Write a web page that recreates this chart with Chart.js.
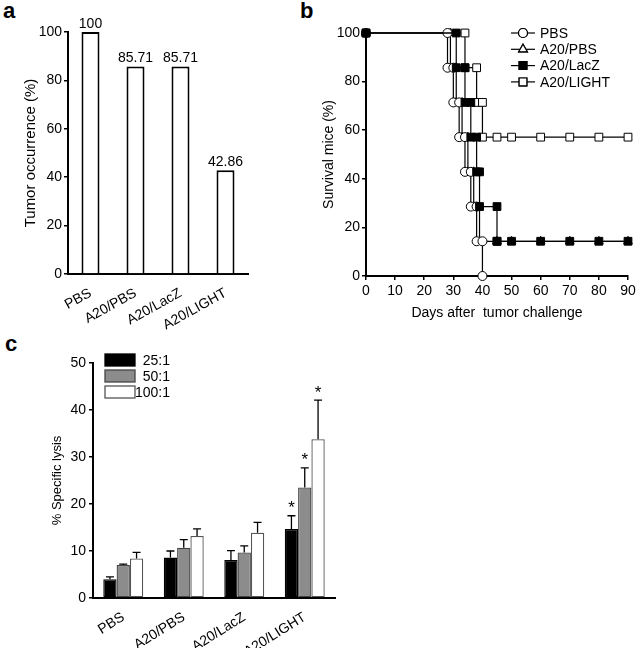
<!DOCTYPE html>
<html>
<head>
<meta charset="utf-8">
<script src="https://cdn.jsdelivr.net/npm/chart.js@4.4.1/dist/chart.umd.min.js"></script>
<style>
  body { margin: 0; background: #fff; }
  #wrap { position: relative; width: 640px; height: 648px; overflow: hidden; }
  canvas { position: absolute; }
  .tag { position: absolute; font: bold 22px 'Liberation Sans', Arial, sans-serif; line-height: 1; }
</style>
</head>
<body>
<div id="wrap">
  <div class="tag" style="left:3px; top:0px;">a</div>
  <div class="tag" style="left:300px; top:0px;">b</div>
  <div class="tag" style="left:5px; top:333px;">c</div>
  <canvas id="chartA" width="265" height="330" style="left:0; top:0;"></canvas>
  <canvas id="chartB" width="345" height="330" style="left:295px; top:0;"></canvas>
  <canvas id="chartC" width="360" height="318" style="left:0; top:330px;"></canvas>
</div>
<script>
// groups used by panels a and c
const groups = ['PBS', 'A20/PBS', 'A20/LacZ', 'A20/LIGHT'];

// panel a: tumor occurrence (%)
const occurrence = [100, 85.71, 85.71, 42.86];

// panel b: survival, day of each death and the survival after it
const pbsDays = [28, 30, 32, 34, 36, 38, 40];
const pbsSurvival = [85.71, 71.43, 57.14, 42.86, 28.57, 14.29, 0];
const a20PbsDays = [29, 31, 33, 35, 37, 39];
const a20PbsSurvival = [85.71, 71.43, 57.14, 42.86, 28.57, 14.29];
const lacZDays = [31, 34, 36, 38, 39, 45];
const lacZSurvival = [85.71, 71.43, 57.14, 42.86, 28.57, 14.29];
const lightDays = [34, 38, 40];
const lightSurvival = [85.71, 71.43, 57.14];
const followUpDays = [45, 50, 60, 70, 80, 90];
const dayTicks = [0, 10, 20, 30, 40, 50, 60, 70, 80, 90];

// panel c: % specific lysis (mean and upper error)
const ratios = ['25:1', '50:1', '100:1'];
const lysis25 = [4.0, 8.6, 8.1, 14.7];
const lysis50 = [7.0, 10.7, 9.7, 23.5];
const lysis100 = [8.4, 13.2, 13.9, 33.8];
const err25 = [0.5, 1.4, 2.0, 2.8];
const err50 = [0.2, 1.7, 1.4, 4.2];
const err100 = [1.3, 1.5, 2.2, 8.3];
const signif25 = [false, false, false, true];
const signif50 = [false, false, false, true];
const signif100 = [false, false, false, true];

const FONT = "'Liberation Sans', Arial, sans-serif";
Chart.defaults.font.family = FONT;
Chart.defaults.color = '#000';

function axisGrid() {
    return { display: true, drawOnChartArea: false, drawTicks: true, tickLength: 4, color: '#000', lineWidth: 1.5 };
}
function axisBorder() {
    return { display: true, color: '#000', width: 2 };
}

// ---------- panel a ----------
const valueLabels = {
    id: 'valueLabels',
    afterDatasetsDraw(chart) {
        const ctx = chart.ctx;
        const meta = chart.getDatasetMeta(0);
        ctx.save();
        ctx.font = '14px ' + FONT;
        ctx.fillStyle = '#000';
        ctx.textAlign = 'center';
        ctx.textBaseline = 'bottom';
        meta.data.forEach((bar, i) => {
            ctx.fillText(String(occurrence[i]), bar.x, bar.y - 1);
        });
        ctx.restore();
    }
};

new Chart(document.getElementById('chartA'), {
    type: 'bar',
    data: {
        labels: groups,
        datasets: [{
            data: occurrence,
            backgroundColor: '#fff',
            borderColor: '#000',
            borderWidth: 2,
            barPercentage: 0.4,
            categoryPercentage: 1
        }]
    },
    options: {
        responsive: false,
        animation: false,
        layout: { autoPadding: false, padding: { top: 32, right: 17, bottom: 0, left: 0 } },
        plugins: { legend: { display: false }, tooltip: { enabled: false } },
        scales: {
            y: {
                min: 0, max: 100,
                ticks: { stepSize: 20, font: { size: 14 }, padding: 2 },
                grid: axisGrid(),
                border: axisBorder(),
                title: { display: true, text: 'Tumor occurrence (%)', font: { size: 15 }, padding: { top: 22 } },
                afterFit(s) { s.width = 68; }
            },
            x: {
                ticks: { minRotation: 29, maxRotation: 29, font: { size: 14 }, padding: 3 },
                grid: { display: false },
                border: axisBorder(),
                afterFit(s) { s.height = 56; }
            }
        }
    },
    plugins: [valueLabels]
});

// ---------- panel b ----------
function survivalPoints(days, surv, tail) {
    const pts = [{ x: 0, y: 100 }];
    let prev = 100;
    days.forEach((d, i) => {
        pts.push({ x: d, y: prev });
        pts.push({ x: d, y: surv[i] });
        prev = surv[i];
    });
    if (tail) tail.forEach(d => pts.push({ x: d, y: prev }));
    return pts;
}

function survSet(label, pts, style, fill, order) {
    let r = 4.5;
    if (style === 'rect') r = 5.5;
    if (style === 'triangle') r = 5;
    return {
        label: label,
        data: pts,
        borderColor: '#000',
        borderWidth: 1.2,
        pointStyle: style,
        pointRadius: r,
        pointBackgroundColor: fill,
        pointBorderColor: '#000',
        pointBorderWidth: 1,
        tension: 0,
        clip: false,
        order: order
    };
}

const survivalData = [
    survSet('PBS', survivalPoints(pbsDays, pbsSurvival, null), 'circle', '#fff', 2),
    survSet('A20/PBS', survivalPoints(a20PbsDays, a20PbsSurvival, followUpDays), 'triangle', '#fff', 3),
    survSet('A20/LacZ', survivalPoints(lacZDays, lacZSurvival, followUpDays), 'rect', '#000', 0),
    survSet('A20/LIGHT', survivalPoints(lightDays, lightSurvival, followUpDays), 'rect', '#fff', 1)
];

const survivalLegend = {
    id: 'survivalLegend',
    afterDraw(chart) {
        const ctx = chart.ctx;
        const area = chart.chartArea;
        ctx.save();
        ctx.font = '14px ' + FONT;
        ctx.textBaseline = 'middle';
        chart.data.datasets.forEach((ds, i) => {
            const y = area.top + i * 16.3;
            const x0 = area.right - 117;
            const x1 = area.right - 93;
            ctx.strokeStyle = '#000';
            ctx.lineWidth = 1.2;
            ctx.beginPath();
            ctx.moveTo(x0, y);
            ctx.lineTo(x1, y);
            ctx.stroke();
            Chart.helpers.drawPoint(ctx, {
                pointStyle: ds.pointStyle, radius: ds.pointRadius, rotation: 0, borderWidth: 1
            }, (x0 + x1) / 2, y);
            ctx.fillStyle = ds.pointBackgroundColor;
            ctx.strokeStyle = '#000';
            ctx.fill();
            ctx.stroke();
            ctx.fillStyle = '#000';
            ctx.fillText(ds.label, area.right - 88, y + 1);
        });
        ctx.restore();
    }
};

new Chart(document.getElementById('chartB'), {
    type: 'line',
    data: { datasets: survivalData },
    options: {
        responsive: false,
        animation: false,
        layout: { autoPadding: false, padding: { top: 33, right: 12, bottom: 0, left: 0 } },
        plugins: { legend: { display: false }, tooltip: { enabled: false } },
        scales: {
            x: {
                type: 'linear',
                min: 0, max: 90,
                afterBuildTicks(s) { s.ticks = dayTicks.map(v => ({ value: v })); },
                ticks: { font: { size: 14 }, padding: 3 },
                grid: axisGrid(),
                border: axisBorder(),
                title: { display: true, text: 'Days after  tumor challenge', font: { size: 14 }, padding: { bottom: 8 } },
                afterFit(s) { s.height = 54; }
            },
            y: {
                min: 0, max: 100,
                ticks: { stepSize: 20, font: { size: 14 }, padding: 2 },
                grid: axisGrid(),
                border: axisBorder(),
                title: { display: true, text: 'Survival mice (%)', font: { size: 14 }, padding: { top: 26 } },
                afterFit(s) { s.width = 71; }
            }
        }
    },
    plugins: [survivalLegend]
});

// ---------- panel c ----------
const errorsByRatio = [err25, err50, err100];
const signifByRatio = [signif25, signif50, signif100];

const errorBars = {
    id: 'errorBars',
    afterDatasetsDraw(chart) {
        const ctx = chart.ctx;
        const yScale = chart.scales.y;
        ctx.save();
        ctx.strokeStyle = '#000';
        ctx.lineWidth = 1.3;
        ctx.fillStyle = '#000';
        ctx.font = '17px ' + FONT;
        ctx.textAlign = 'center';
        ctx.textBaseline = 'middle';
        chart.data.datasets.forEach((ds, di) => {
            const meta = chart.getDatasetMeta(di);
            meta.data.forEach((bar, i) => {
                const v = ds.data[i];
                const top = yScale.getPixelForValue(v + errorsByRatio[di][i]);
                ctx.beginPath();
                ctx.moveTo(bar.x, bar.y);
                ctx.lineTo(bar.x, top);
                ctx.moveTo(bar.x - 4, top);
                ctx.lineTo(bar.x + 4, top);
                ctx.stroke();
                if (signifByRatio[di][i]) ctx.fillText('*', bar.x, top - 7);
            });
        });
        ctx.restore();
    }
};

const lysisLegend = {
    id: 'lysisLegend',
    afterDraw(chart) {
        const ctx = chart.ctx;
        const area = chart.chartArea;
        ctx.save();
        ctx.font = '14px ' + FONT;
        ctx.textBaseline = 'middle';
        ctx.textAlign = 'right';
        chart.data.datasets.forEach((ds, i) => {
            const y = area.top - 3 + i * 16;
            ctx.fillStyle = ds.backgroundColor;
            ctx.fillRect(area.left + 12, y - 6, 30, 12);
            ctx.strokeStyle = ds.borderColor;
            ctx.lineWidth = 1.3;
            ctx.strokeRect(area.left + 12, y - 6, 30, 12);
            ctx.fillStyle = '#000';
            ctx.fillText(ds.label, area.left + 77, y + 1);
        });
        ctx.restore();
    }
};

function lysisSet(label, values, fill, border) {
    return {
        label: label,
        data: values,
        backgroundColor: fill,
        borderColor: border,
        borderWidth: 1.3,
        borderSkipped: false,
        barPercentage: 1,
        categoryPercentage: 0.66
    };
}

new Chart(document.getElementById('chartC'), {
    type: 'bar',
    data: {
        labels: groups,
        datasets: [
            lysisSet(ratios[0], lysis25, '#000', '#000'),
            lysisSet(ratios[1], lysis50, '#8c8c8c', '#444'),
            lysisSet(ratios[2], lysis100, '#fff', '#555')
        ]
    },
    options: {
        responsive: false,
        animation: false,
        layout: { autoPadding: false, padding: { top: 33, right: 25, bottom: 0, left: 0 } },
        plugins: { legend: { display: false }, tooltip: { enabled: false } },
        scales: {
            y: {
                min: 0, max: 50,
                ticks: { stepSize: 10, font: { size: 14 }, padding: 3 },
                grid: axisGrid(),
                border: axisBorder(),
                title: { display: true, text: '% Specific lysis', font: { size: 13 }, padding: { top: 50 } },
                afterFit(s) { s.width = 93; }
            },
            x: {
                ticks: { minRotation: 32, maxRotation: 32, font: { size: 14 }, padding: 3 },
                grid: { display: false },
                border: axisBorder(),
                afterFit(s) { s.height = 50; }
            }
        }
    },
    plugins: [errorBars, lysisLegend]
});
</script>
</body>
</html>
